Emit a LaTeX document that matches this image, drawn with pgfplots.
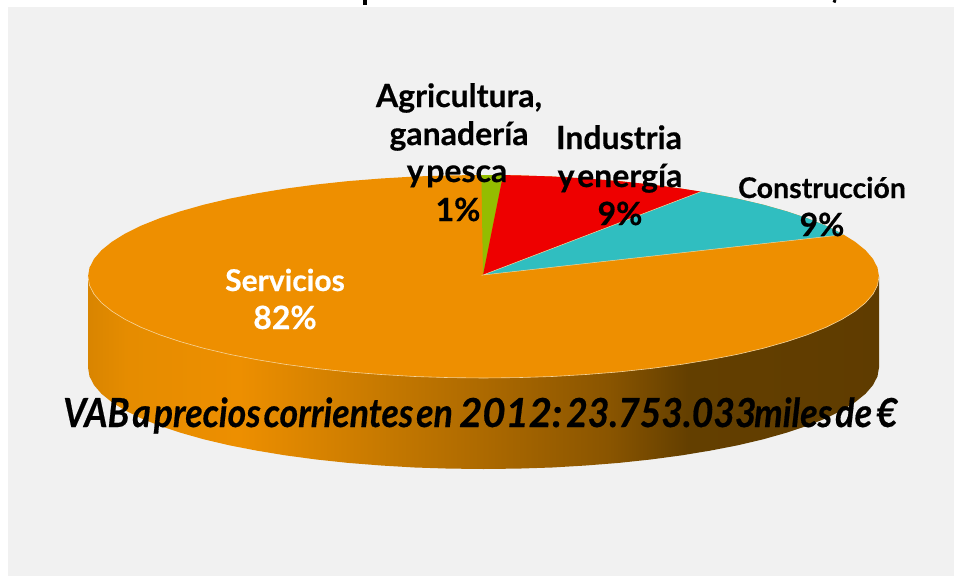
\documentclass[border=0pt]{standalone}
\usepackage{pgfplots}
\pgfplotsset{compat=1.18}
\usepackage{fontspec}
\setmainfont{Lato}[BoldFeatures={FakeBold=0.5},BoldItalicFeatures={FakeBold=0.5}]
\definecolor{bgc}{HTML}{F1F1F1}
\definecolor{org}{HTML}{EE8F00}
\definecolor{grn}{HTML}{94BD00}
\definecolor{rdc}{HTML}{EE0000}
\definecolor{tea}{HTML}{30BEC0}
\definecolor{edge}{HTML}{F6D49A}
\pgfdeclarehorizontalshading{vabside}{100bp}{
 rgb(0bp)=(0.85,0.52,0);
 rgb(25bp)=(0.85,0.52,0);
 rgb(27.5bp)=(0.90,0.55,0);
 rgb(34.6bp)=(0.93,0.56,0);
 rgb(44.1bp)=(0.77,0.47,0);
 rgb(49.8bp)=(0.68,0.415,0);
 rgb(57.9bp)=(0.54,0.333,0);
 rgb(62.9bp)=(0.39,0.247,0);
 rgb(75bp)=(0.373,0.235,0);
 rgb(100bp)=(0.373,0.235,0)}
\newcommand{\lbl}[2]{\scalebox{#1}[1]{#2}}
\tikzset{big/.style={anchor=base,inner sep=0pt,font=\bfseries\fontsize{32}{32}\selectfont},
         mid/.style={anchor=base,inner sep=0pt,font=\bfseries\fontsize{28.5}{28.5}\selectfont},
         vab/.style={anchor=base west,inner sep=0pt,font=\bfseries\itshape\fontsize{40}{40}\selectfont}}
\begin{document}
\begin{tikzpicture}
\begin{axis}[scale only axis,width=954pt,height=576pt,xmin=0,xmax=954,ymin=0,ymax=576,
  y dir=reverse,hide axis,clip=true,axis on top=false]
% panel
\addplot[fill=white,draw=none] coordinates {(0,0)(954,0)(954,576)(0,576)} --cycle;
\addplot[fill=bgc,draw=none] coordinates {(8,7)(954,7)(954,576)(8,576)} --cycle;
% remains of the cut-off title
\addplot[draw=black,line width=4pt] coordinates {(365,0)(365,5)};
\addplot[draw=black,line width=3pt] coordinates {(835,0)(834,2.5)};
% side of the pie
\addplot[shading=vabside,draw=none] coordinates {
(88,276.5)(88,367.5)(89.5,376.3)(94,385.1)(101.5,393.8)(111.9,402.2)(125.1,410.4)(141,418.3)(159.5,425.7)(180.5,432.7)(203.8,439.3)(229.3,445.3)(256.6,450.6)(285.7,455.4)(316.4,459.5)(348.2,462.9)(381.1,465.5)(414.8,467.5)(449,468.6)(483.5,469)
(518,468.6)(552.2,467.5)(585.9,465.5)(618.8,462.9)(650.6,459.5)(681.3,455.4)(710.4,450.6)(737.7,445.3)(763.2,439.3)(786.5,432.7)(807.5,425.7)(826,418.3)(841.9,410.4)(855.1,402.2)(865.5,393.8)(873,385.1)(877.5,376.3)(879,367.5)(879,276.5)} --cycle;
% top, whole ellipse (Servicios)
\addplot[fill=org,draw=none] coordinates {
(879,276.5)(877.5,267.7)(873,258.9)(865.5,250.2)(855.1,241.8)(841.9,233.6)(826,225.7)(807.5,218.3)(786.5,211.3)(763.2,204.7)(737.7,198.7)(710.4,193.4)(681.3,188.6)(650.6,184.5)(618.8,181.1)(585.9,178.5)(552.2,176.5)(518,175.4)(483.5,175)
(449,175.4)(414.8,176.5)(381.1,178.5)(348.2,181.1)(316.4,184.5)(285.7,188.6)(256.6,193.4)(229.3,198.7)(203.8,204.7)(180.5,211.3)(159.5,218.3)(141,225.7)(125.1,233.6)(111.9,241.8)(101.5,250.2)(94,258.9)(89.5,267.7)(88,276.5)
(89.5,285.3)(94,294.1)(101.5,302.8)(111.9,311.2)(125.1,319.4)(141,327.3)(159.5,334.7)(180.5,341.7)(203.8,348.3)(229.3,354.3)(256.6,359.6)(285.7,364.4)(316.4,368.5)(348.2,371.9)(381.1,374.5)(414.8,376.5)(449,377.6)(483.5,378)
(518,377.6)(552.2,376.5)(585.9,374.5)(618.8,371.9)(650.6,368.5)(681.3,364.4)(710.4,359.6)(737.7,354.3)(763.2,348.3)(786.5,341.7)(807.5,334.7)(826,327.3)(841.9,319.4)(855.1,311.2)(865.5,302.8)(873,294.1)(877.5,285.3)} --cycle;
% light rim on the front edge
\addplot[draw=edge,line width=0.6pt] coordinates {
(88,276.5)(89.5,285.3)(94,294.1)(101.5,302.8)(111.9,311.2)(125.1,319.4)(141,327.3)(159.5,334.7)(180.5,341.7)(203.8,348.3)(229.3,354.3)(256.6,359.6)(285.7,364.4)(316.4,368.5)(348.2,371.9)(381.1,374.5)(414.8,376.5)(449,377.6)(483.5,378)
(518,377.6)(552.2,376.5)(585.9,374.5)(618.8,371.9)(650.6,368.5)(681.3,364.4)(710.4,359.6)(737.7,354.3)(763.2,348.3)(786.5,341.7)(807.5,334.7)(826,327.3)(841.9,319.4)(855.1,311.2)(865.5,302.8)(873,294.1)(877.5,285.3)(879,276.5)};
% Agricultura
\addplot[fill=grn,draw=none] coordinates {(483,275)(481.4,175)(503,175.1)} --cycle;
% Industria
\addplot[fill=rdc,draw=none] coordinates {(483,275)(503,175.1)(518,175.4)(552.2,176.5)(585.9,178.5)(618.8,181.1)(650.6,184.5)(681.3,188.6)(701,191.6)} --cycle;
% Construccion
\addplot[fill=tea,draw=none] coordinates {(483,275)(701,191.6)(710.4,193.4)(737.7,198.7)(763.2,204.7)(786.5,211.3)(807.5,218.3)(826,225.7)(841.9,233.6)(844,234.6)} --cycle;
% seams between the slices
\addplot[draw=edge,line width=0.5pt] coordinates {(844,234.6)(483,275)(701,191.6)};
% labels
\node[big] at (axis cs:459,107) {Agricultura,};
\node[big] at (axis cs:459,145) {ganadería};
\node[big] at (axis cs:457,182) {y\hspace{0.08em}pesca};
\node[big] at (axis cs:458,221) {1\%};
\node[big] at (axis cs:619,149) {Industria};
\node[big] at (axis cs:620,187) {y\hspace{0.08em}energía};
\node[big] at (axis cs:620,225) {9\%};
\node[mid] at (axis cs:822,198) {Construcción};
\node[big] at (axis cs:822,236) {9\%};
\node[big,font=\bfseries\fontsize{30}{30}\selectfont,text=white] at (axis cs:285,291) {Servicios};
\node[big,text=white] at (axis cs:285,329) {82\%};
\node[vab] at (axis cs:63,427) {\lbl{0.893}{VAB\hspace{0.08em}a\hspace{0.08em}precios\hspace{0.08em}corrientes\hspace{0.08em}en}};
\node[vab] at (axis cs:459,427) {2012:};
\node[vab] at (axis cs:566,427) {\lbl{0.93}{23.753.033}};
\node[vab] at (axis cs:754,427) {\lbl{0.90}{miles\hspace{0.08em}de\hspace{0.12em}€}};
\end{axis}
\end{tikzpicture}
\end{document}
